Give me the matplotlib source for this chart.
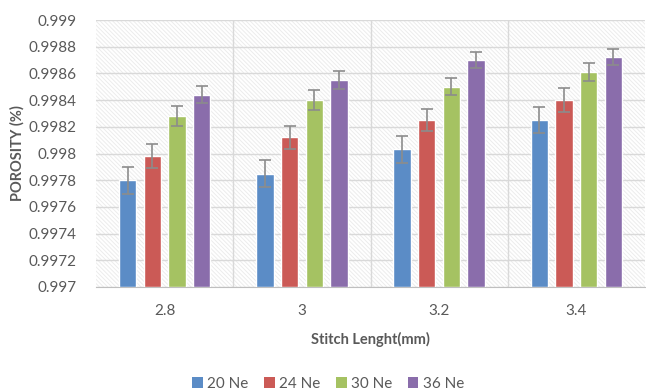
import numpy as np
import matplotlib
matplotlib.use('Agg')
import matplotlib.pyplot as plt
from matplotlib.patches import Patch

plt.rcParams.update({
    'font.family': ['Lato', 'DejaVu Sans'],
    'font.size': 10.5,
    'hatch.color': '#ececec',
    'hatch.linewidth': 0.7,
})

# ---- data ----
stitch = ['2.8', '3', '3.2', '3.4']
series = ['20 Ne', '24 Ne', '30 Ne', '36 Ne']
ne20 = [0.99780, 0.99785, 0.99803, 0.99825]
ne24 = [0.99798, 0.99812, 0.99825, 0.99840]
ne30 = [0.99828, 0.99840, 0.99850, 0.99861]
ne36 = [0.99844, 0.99855, 0.99870, 0.99872]
err20 = [0.00010, 0.00010, 0.00010, 0.00010]
err24 = [0.00009, 0.000085, 0.000085, 0.00009]
err30 = [0.000075, 0.000073, 0.000065, 0.000068]
err36 = [0.000065, 0.000068, 0.00006, 0.00006]
yticks = [0.997, 0.9972, 0.9974, 0.9976, 0.9978, 0.998,
          0.9982, 0.9984, 0.9986, 0.9988, 0.999]

colors = ['#5b8cc6', '#cb5a56', '#a5c262', '#8a6dab']
text_col = '#595959'
grid_col = '#d9d9d9'

fig = plt.figure(figsize=(6.46, 3.91), dpi=100)
ax = fig.add_axes([96 / 646, 104 / 391, 549 / 646, 267 / 391])

# hatched plot background
ax.patch.set_facecolor('white')
ax.patch.set_hatch('\\' * 8)
ax.patch.set_edgecolor('#ececec')
ax.patch.set_linewidth(0)

x = np.arange(len(stitch))
w = 0.127
pitch = 0.18
vals = [ne20, ne24, ne30, ne36]
errs = [err20, err24, err30, err36]
base = 0.997
for i, (v, e) in enumerate(zip(vals, errs)):
    pos = x + (i - 1.5) * pitch
    ax.bar(pos, np.array(v) - base, bottom=base, width=w, color=colors[i],
           edgecolor='white', linewidth=1.0, zorder=3)
    ax.errorbar(pos, v, yerr=e, fmt='none', ecolor='#8c8c8c',
                elinewidth=1.2, capsize=4, capthick=1.2, zorder=4)

ax.set_xlim(-0.5, len(stitch) - 0.5)
ax.set_ylim(0.997, 0.999)
ax.set_yticks(yticks)
ax.set_yticklabels([f'{t:g}' for t in yticks])
ax.set_xticks(x)
ax.set_xticklabels(stitch)

# horizontal gridlines and category separators
for t in yticks:
    ax.axhline(t, color=grid_col, lw=1.0, zorder=1)
for b in x[:-1] + 0.5:
    ax.axvline(b, color=grid_col, lw=1.0, zorder=1)

for s in ['top', 'right', 'left']:
    ax.spines[s].set_visible(False)
ax.spines['bottom'].set_color('#bfbfbf')
ax.tick_params(length=0, colors=text_col, labelsize=11)
ax.tick_params(axis='y', pad=14)
ax.tick_params(axis='x', pad=12)

ax.set_ylabel('POROSITY (%)', fontsize=10.5, fontweight='bold', color=text_col, labelpad=3)
ax.set_xlabel('Stitch Lenght(mm)', fontsize=10.5, fontweight='bold', color=text_col, labelpad=10)

handles = [Patch(facecolor=c, edgecolor='none') for c in colors]
fig.legend(handles, series, loc='center', bbox_to_anchor=(0.508, 0.018), ncol=4,
           frameon=False, handlelength=0.7, handleheight=0.7, handletextpad=0.3,
           columnspacing=1.0, labelcolor=text_col, fontsize=11)

fig.savefig('out.png', dpi=100)
